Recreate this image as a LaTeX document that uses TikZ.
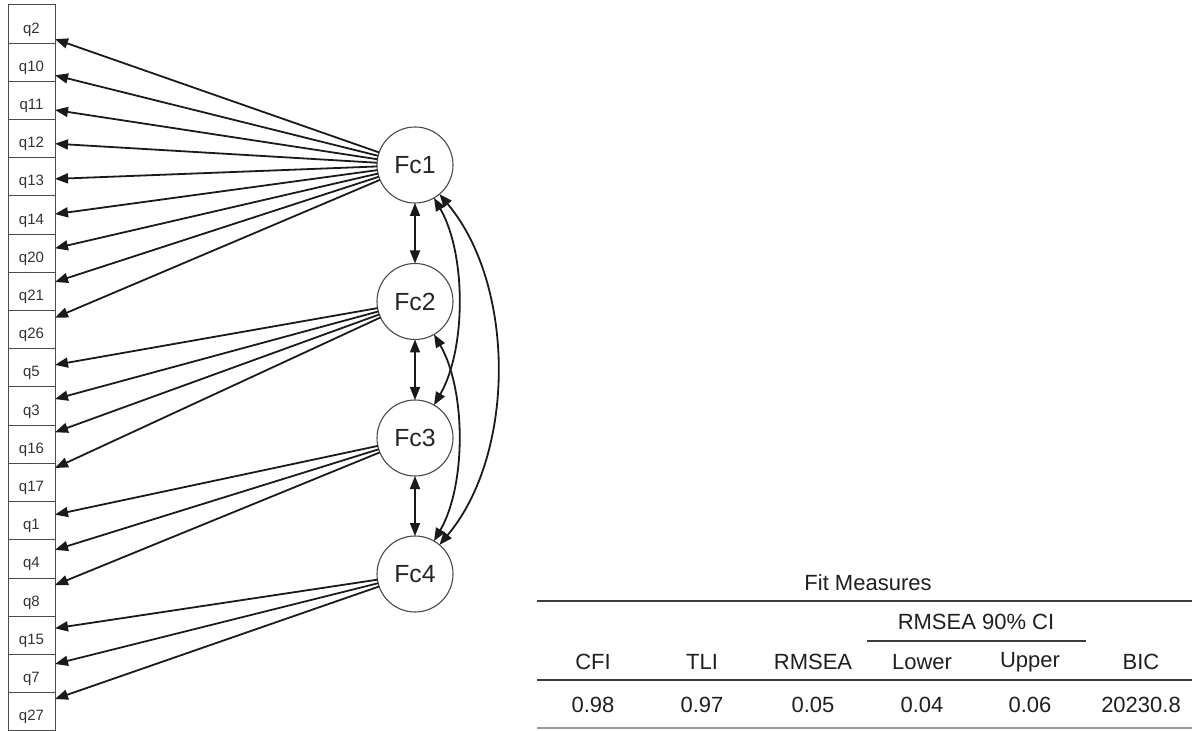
\documentclass[tikz,border=0pt]{standalone}
\usepackage{fontspec}
\setmainfont{Liberation Sans}
\usetikzlibrary{positioning,arrows.meta}
\definecolor{pathcolor}{HTML}{1A1A1A}
\definecolor{boxcolor}{HTML}{4A4A4A}
\definecolor{rulecolor}{HTML}{3C3C3C}

\begin{document}
\begin{tikzpicture}[x=0.5pt, y=-0.5pt, node distance=0pt,
    every node/.style={inner sep=0pt, outer sep=0pt},
    item/.style={draw=boxcolor, line width=0.5pt, minimum width=23.5pt, minimum height=19.1pt,
      font=\fontsize{7.5}{9}\selectfont, text=black!80, text height=9pt, text depth=0pt},
    latent/.style={draw=boxcolor, circle, line width=0.55pt, minimum size=38pt, fill=white,
      font=\fontsize{12.4}{14}\selectfont, text=black!85},
    load/.style={-{Triangle[length=6.5pt,width=5pt]}, line width=0.9pt, draw=pathcolor},
    cov/.style={{Triangle[length=6.5pt,width=5pt]}-{Triangle[length=6.5pt,width=5pt]}, line width=0.9pt, draw=pathcolor},
    cell/.style={font=\fontsize{11}{13}\selectfont, text=black!88},
    thickrule/.style={draw=rulecolor, line width=1pt},
    thinrule/.style={draw=black!40, line width=0.8pt}]
  \useasboundingbox (0,0) rectangle (1192,731);

  \node[item] (q2) at (31.5,24.1) {q2};
  \node[item, below=of q2] (q10) {q10};
  \node[item, below=of q10] (q11) {q11};
  \node[item, below=of q11] (q12) {q12};
  \node[item, below=of q12] (q13) {q13};
  \node[item, below=of q13] (q14) {q14};
  \node[item, below=of q14] (q20) {q20};
  \node[item, below=of q20] (q21) {q21};
  \node[item, below=of q21] (q26) {q26};
  \node[item, below=of q26] (q5) {q5};
  \node[item, below=of q5] (q3) {q3};
  \node[item, below=of q3] (q16) {q16};
  \node[item, below=of q16] (q17) {q17};
  \node[item, below=of q17] (q1) {q1};
  \node[item, below=of q1] (q4) {q4};
  \node[item, below=of q4] (q8) {q8};
  \node[item, below=of q8] (q15) {q15};
  \node[item, below=of q15] (q7) {q7};
  \node[item, below=of q7] (q27) {q27};

  \node[latent] (Fc1) at (415,165) {Fc1};
  \node[latent] (Fc2) at (415,301.5) {Fc2};
  \node[latent] (Fc3) at (415,438) {Fc3};
  \node[latent] (Fc4) at (415,574) {Fc4};

  \draw[load] (Fc1) -- ([yshift=-7.5pt]q2.east);
  \draw[load] (Fc1) -- ([yshift=-6.5pt]q10.east);
  \draw[load] (Fc1) -- ([yshift=-4.75pt]q11.east);
  \draw[load] (Fc1) -- ([yshift=-2.5pt]q12.east);
  \draw[load] (Fc1) -- ([yshift=-1pt]q13.east);
  \draw[load] (Fc1) -- ([yshift=0.5pt]q14.east);
  \draw[load] (Fc1) -- ([yshift=2.5pt]q20.east);
  \draw[load] (Fc1) -- ([yshift=4.75pt]q21.east);
  \draw[load] (Fc1) -- ([yshift=6pt]q26.east);

  \draw[load] (Fc2) -- ([yshift=1.5pt]q5.east);
  \draw[load] (Fc2) -- ([yshift=3.5pt]q3.east);
  \draw[load] (Fc2) -- ([yshift=6pt]q16.east);
  \draw[load] (Fc2) -- ([yshift=7.25pt]q17.east);

  \draw[load] (Fc3) -- ([yshift=3pt]q1.east);
  \draw[load] (Fc3) -- ([yshift=4.5pt]q4.east);
  \draw[load] (Fc3) -- ([yshift=6pt]q8.east);

  \draw[load] (Fc4) -- ([yshift=3.5pt]q15.east);
  \draw[load] (Fc4) -- ([yshift=4.75pt]q7.east);
  \draw[load] (Fc4) -- ([yshift=6.35pt]q27.east);

  \draw[cov] (Fc1) -- (Fc2);
  \draw[cov] (Fc2) -- (Fc3);
  \draw[cov] (Fc3) -- (Fc4);
  \draw[cov] (Fc1) to[bend left=30, looseness=0.8] (Fc3);
  \draw[cov] (Fc2) to[bend left=30, looseness=0.8] (Fc4);
  \draw[cov] (Fc1) to[bend left=40, looseness=0.87] (Fc4);

  \node[cell] (fit) at (868,583) {Fit Measures};
  \draw[thickrule] (537,601) -- (1192,601);
  \node[cell] (ci) at (976,622) {RMSEA 90\% CI};
  \draw[draw=rulecolor, line width=0.8pt] (867,641) -- (1086,641);
  \node[cell] (hcfi) at (593,662) {CFI};
  \node[cell] (htli) at (702,662) {TLI};
  \node[cell] (hrmsea) at (813,662) {RMSEA};
  \node[cell] (hlower) at (922,662) {Lower};
  \node[cell] (hupper) at (1030,662) {Upper};
  \node[cell] (hbic) at (1141,662) {BIC};
  \draw[thickrule] (537,680) -- (1192,680);
  \node[cell] (vcfi) at (593,705) {0.98};
  \node[cell] (vtli) at (702,705) {0.97};
  \node[cell] (vrmsea) at (813,705) {0.05};
  \node[cell] (vlower) at (922,705) {0.04};
  \node[cell] (vupper) at (1030,705) {0.06};
  \node[cell] (vbic) at (1141,705) {20230.8};
  \draw[thinrule] (537,728) -- (1192,728);
\end{tikzpicture}
\end{document}
